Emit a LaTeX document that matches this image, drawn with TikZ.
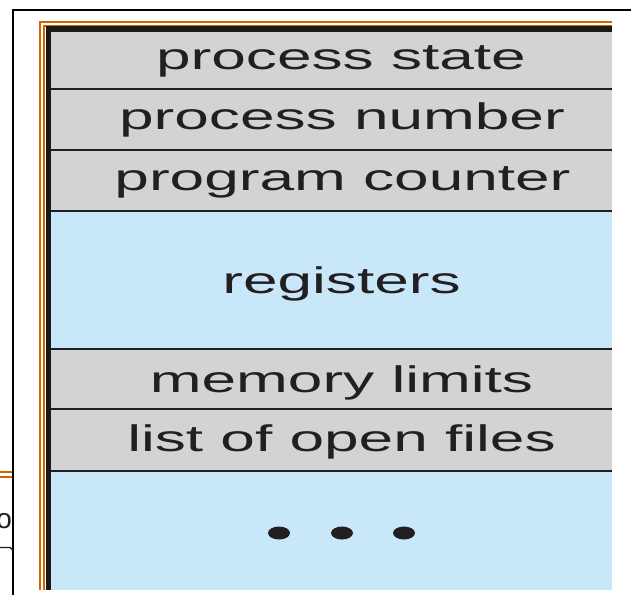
\documentclass[tikz,border=0pt]{standalone}
\usepackage{fontspec}
\setmainfont{Liberation Sans}
\usepackage{graphicx}
\definecolor{cellgray}{RGB}{209,211,212}
\definecolor{cellblue}{RGB}{200,232,250}
\definecolor{ink}{RGB}{35,31,32}
\definecolor{frameorange}{RGB}{204,102,0}
\begin{document}
\begin{tikzpicture}[x=1pt,y=-1pt]
\tikzset{
  cell/.style={draw=none, inner sep=0pt, minimum width=561pt},
  graycell/.style={cell, fill=cellgray},
  bluecell/.style={cell, fill=cellblue},
  lbl/.style={inner sep=0pt, anchor=base, text=ink, font=\fontsize{37}{44}\selectfont},
  sep/.style={draw=ink, line width=1.9pt},
  orangeline/.style={draw=frameorange, line width=2.1pt},
  blackline/.style={draw=black, line width=2.1pt},
}
\useasboundingbox (0,0) rectangle (631,595);
\clip (0,0) rectangle (631,595);
\fill[white] (0,0) rectangle (631,595);

% outer black frame
\coordinate (fa) at (13.3,595);
\coordinate (fb) at (13.3,10);
\coordinate (fc) at (631,10);
\draw[blackline] (fa) -- (fb) -- (fc);

% left fragment
\coordinate (la1) at (0,472);
\coordinate (la2) at (12.3,472);
\coordinate (lb1) at (0,477);
\coordinate (lb2) at (12.3,477);
\draw[orangeline, line width=1.8pt] (la1) -- (la2);
\draw[orangeline, line width=1.8pt] (lb1) -- (lb2);
\node[inner sep=0pt, anchor=base west, text=ink, font=\fontsize{28}{32}\selectfont] (frag) at (-3.8,528) {o};
\coordinate (sl1) at (0,547.5);
\coordinate (sl2) at (10,547.5);
\coordinate (sl3) at (12.5,549.5);
\draw[draw=ink, line width=1.4pt] (sl1) -- (sl2) -- (sl3);

% cells
\node[graycell, minimum height=58pt] (r1) at (331.5,60) {};
\node[graycell, minimum height=61pt] (r2) at (331.5,119.5) {};
\node[graycell, minimum height=61pt] (r3) at (331.5,180.5) {};
\node[bluecell, minimum height=138pt] (r4) at (331.5,280) {};
\node[graycell, minimum height=60pt] (r5) at (331.5,379) {};
\node[graycell, minimum height=62pt] (r6) at (331.5,440) {};
\node[bluecell, minimum height=119pt] (r7) at (331.5,530.5) {};

% separators
\draw[sep] (r1.south west) -- (r1.south east);
\draw[sep] (r2.south west) -- (r2.south east);
\draw[sep] (r3.south west) -- (r3.south east);
\draw[sep] (r4.south west) -- (r4.south east);
\draw[sep] (r5.south west) -- (r5.south east);
\draw[sep] (r6.south west) -- (r6.south east);

% frame lines (orange double + dark band)
\coordinate (oa) at (40,590);
\coordinate (ob) at (40,22.3);
\coordinate (oc) at (612,22.3);
\draw[orangeline] (oa) -- (ob) -- (oc);
\coordinate (ia) at (44,590);
\coordinate (ib) at (44,25.6);
\coordinate (ic) at (612,25.6);
\draw[orangeline] (ia) -- (ib) -- (ic);
\coordinate (da) at (48.4,590);
\coordinate (db) at (48.4,28.9);
\coordinate (dc) at (612,28.9);
\draw[draw=black!90, line width=5.2pt] (da) -- (db) -- (dc);

% labels
\node[lbl] (t1) at (341,69) {\scalebox{1.68}[1]{process state}};
\node[lbl] (t2) at (342,129) {\scalebox{1.68}[1]{process number}};
\node[lbl] (t3) at (342.5,190) {\scalebox{1.68}[1]{program counter}};
\node[lbl] (t4) at (341.5,293) {\scalebox{1.68}[1]{registers}};
\node[lbl] (t5) at (341.5,392.5) {\scalebox{1.68}[1]{memory limits}};
\node[lbl] (t6) at (341.5,451.5) {\scalebox{1.68}[1]{list of open files}};

% dots
\fill[ink] (279,533) ellipse [x radius=11, y radius=6.5];
\fill[ink] (342,533) ellipse [x radius=11, y radius=6.5];
\fill[ink] (404,533) ellipse [x radius=11, y radius=6.5];
\end{tikzpicture}
\end{document}
